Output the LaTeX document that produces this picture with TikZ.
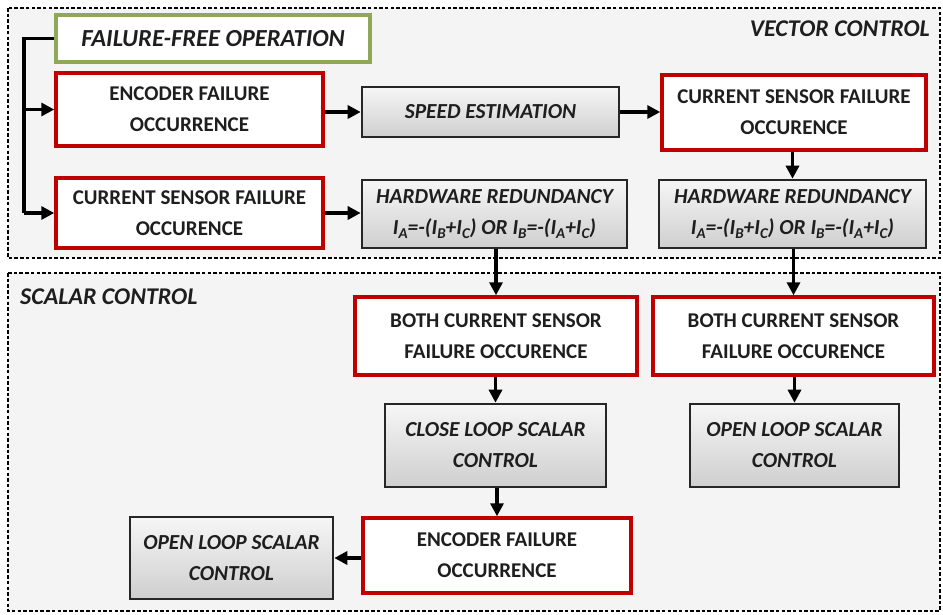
\documentclass[tikz,border=0pt]{standalone}
\usepackage{fontspec}
\setmainfont{Carlito}
\usetikzlibrary{arrows.meta}
\definecolor{redb}{HTML}{C00000}
\definecolor{greenb}{HTML}{8FA858}
\definecolor{txt}{HTML}{1E1E1E}
\newcommand{\subx}[1]{\raisebox{-4pt}{\fontsize{15}{15}\selectfont #1}}
\begin{document}
\begin{tikzpicture}[x=1pt,y=-1pt,
  region/.style={draw=black, line width=1.6pt, dash pattern=on 3.5pt off 2.2pt, fill=gray!9},
  basebox/.style={align=center, text=txt, font=\fontsize{21}{31}\selectfont\bfseries, inner sep=0pt},
  redbox/.style={basebox, draw=redb, line width=3.5pt, fill=white},
  greenbox/.style={basebox, draw=greenb, line width=3.2pt, fill=white, font=\fontsize{24.5}{31}\selectfont\bfseries\itshape},
  graybox/.style={basebox, draw=black!85, line width=2.6pt, top color=gray!7, bottom color=gray!38, font=\fontsize{21.4}{31}\selectfont\bfseries\itshape},
  arr/.style={line width=3.4pt, -{Triangle[length=13pt,width=13pt]}},
  title/.style={text=txt, font=\fontsize{24}{26}\selectfont\bfseries\itshape, inner sep=0pt}
]
\useasboundingbox (0,0) rectangle (943,614);
\fill[white] (0,0) rectangle (943,614);
% regions
\draw[region] (8,8) rectangle (940,258);
\draw[region] (8,273) rectangle (940,611);
\node[title, anchor=east] (vc) at (930,29) {VECTOR CONTROL};
\node[title, anchor=west] (sc) at (20,297) {SCALAR CONTROL};
% boxes
\node[greenbox, minimum width=314pt, minimum height=47pt] (ff) at (213,38.5) {FAILURE-FREE OPERATION};
\node[redbox, minimum width=267pt, minimum height=73pt] (enc) at (189.5,109.5) {ENCODER FAILURE\\OCCURRENCE};
\node[redbox, minimum width=267pt, minimum height=70pt] (csl) at (189.5,213) {CURRENT SENSOR FAILURE\\OCCURENCE};
\node[graybox, minimum width=257pt, minimum height=50pt] (se) at (490.5,112) {SPEED ESTIMATION};
\node[redbox, minimum width=264pt, minimum height=75pt] (csr) at (794,112.5) {CURRENT SENSOR FAILURE\\OCCURENCE};
\node[graybox, minimum width=265pt, minimum height=68pt] (hwm) at (494.5,214) {HARDWARE REDUNDANCY\\I\subx{A}=-(I\subx{B}+I\subx{C}) OR I\subx{B}=-(I\subx{A}+I\subx{C})};
\node[graybox, minimum width=267pt, minimum height=68pt] (hwr) at (792.5,214) {HARDWARE REDUNDANCY\\I\subx{A}=-(I\subx{B}+I\subx{C}) OR I\subx{B}=-(I\subx{A}+I\subx{C})};
\node[redbox, minimum width=282pt, minimum height=78pt] (bcm) at (496,336) {BOTH CURRENT SENSOR\\FAILURE OCCURENCE};
\node[redbox, minimum width=281pt, minimum height=78pt] (bcr) at (793.5,336) {BOTH CURRENT SENSOR\\FAILURE OCCURENCE};
\node[graybox, minimum width=221pt, minimum height=83pt] (cl) at (495.5,445.5) {CLOSE LOOP SCALAR\\CONTROL};
\node[graybox, minimum width=209pt, minimum height=83pt] (olr) at (794.5,445.5) {OPEN LOOP SCALAR\\CONTROL};
\node[redbox, minimum width=268pt, minimum height=75pt] (encb) at (497,555.5) {ENCODER FAILURE\\OCCURRENCE};
\node[graybox, minimum width=203pt, minimum height=82pt] (oll) at (231.5,558) {OPEN LOOP SCALAR\\CONTROL};
% connectors
\coordinate (bt) at (24,38.5);
\coordinate (bb) at (24,213);
\draw[line width=3.4pt] (ff.west) -- (bt) -- (bb);
\draw[arr] (bt |- enc.west) -- (enc.west);
\draw[arr] (bb) -- (csl.west);
\draw[arr] (enc.east |- se.west) -- (se.west);
\draw[arr] (se.east) -- (csr.west |- se.east);
\draw[arr] (csl.east) -- (hwm.west |- csl.east);
\draw[arr] (csr.south -| hwr.north) -- (hwr.north);
\draw[arr] (hwm.south -| bcm.north) -- (bcm.north);
\draw[arr] (hwr.south -| bcr.north) -- (bcr.north);
\draw[arr] (bcm.south -| cl.north) -- (cl.north);
\draw[arr] (bcr.south -| olr.north) -- (olr.north);
\draw[arr] (cl.south -| encb.north) -- (encb.north);
\draw[arr] (encb.west |- oll.east) -- (oll.east);
\end{tikzpicture}
\end{document}
